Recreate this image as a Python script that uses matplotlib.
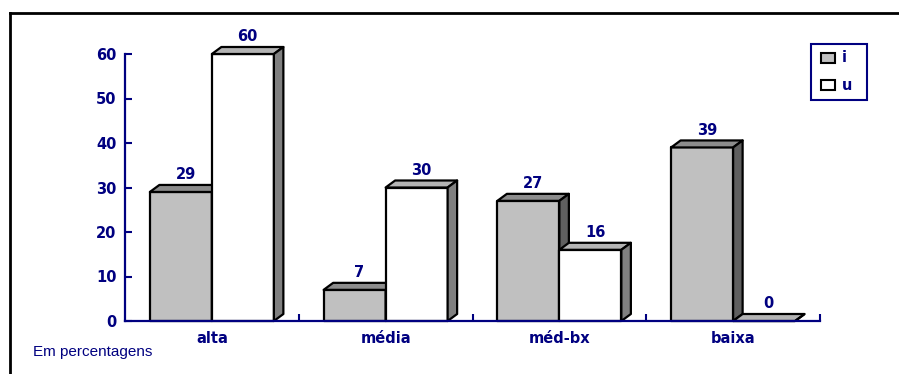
import matplotlib
matplotlib.use('Agg')
import matplotlib.pyplot as plt
from matplotlib.patches import Polygon, Rectangle
from matplotlib.lines import Line2D

categories = ['alta', 'média', 'méd-bx', 'baixa']
series_names = ['i', 'u']
values_i = [29, 7, 27, 39]
values_u = [60, 30, 16, 0]
yticks = [0, 10, 20, 30, 40, 50, 60]
note = 'Em percentagens'

W, H = 899, 374
fig = plt.figure(figsize=(W / 100, H / 100), dpi=100)
navy = '#000080'


def fx(x):
    return x / W


def fy(y):
    return 1 - y / H


ax_l, ax_r, ax_t, ax_b = 125, 820, 54, 321
ax = fig.add_axes([fx(ax_l), fy(ax_b), (ax_r - ax_l) / W, (ax_b - ax_t) / H])
n = len(categories)
ax.set_xlim(0, n)
ax.set_ylim(0, max(yticks))

ppx = (ax_r - ax_l) / n
ppy = (ax_b - ax_t) / max(yticks)
dx = 9.5 / ppx
dy = 7.0 / ppy
bw = 62 / ppx
start = 0.5 - bw

styles = {
    'i': dict(front='#c0c0c0', top='#8c8c8c', side='#5f5f5f'),
    'u': dict(front='#ffffff', top='#b4b4b4', side='#808080'),
}


def bar3d(x0, v, st, z):
    x1 = x0 + bw
    kw = dict(edgecolor='black', linewidth=1.6, joinstyle='round', clip_on=False, zorder=z)
    ax.add_patch(Polygon([(x0, 0), (x1, 0), (x1, v), (x0, v)], closed=True, facecolor=st['front'], **kw))
    ax.add_patch(Polygon([(x0, v), (x1, v), (x1 + dx, v + dy), (x0 + dx, v + dy)], closed=True, facecolor=st['top'], **kw))
    ax.add_patch(Polygon([(x1, 0), (x1 + dx, dy), (x1 + dx, v + dy), (x1, v)], closed=True, facecolor=st['side'], **kw))
    ax.annotate(str(v), xy=(x0 + bw / 2 + dx / 2, v + dy), xytext=(0, 2), textcoords='offset points',
                ha='center', va='bottom', color=navy, fontsize=10.5, fontweight='bold',
                annotation_clip=False, zorder=10)


z = 3
for k, cat in enumerate(categories):
    bar3d(k + start, values_i[k], styles['i'], z)
    z += 1
    bar3d(k + 0.5, values_u[k], styles['u'], z)
    z += 1

for s in ['top', 'right']:
    ax.spines[s].set_visible(False)
for s in ['left', 'bottom']:
    ax.spines[s].set_color(navy)
    ax.spines[s].set_linewidth(1.6)
    ax.spines[s].set_zorder(20)

ax.set_yticks(yticks)
ax.set_yticklabels([str(t) for t in yticks])
ax.tick_params(axis='y', direction='in', length=5, width=1.5, color=navy,
               labelcolor=navy, labelsize=10.5, pad=6)
for lab in ax.get_yticklabels():
    lab.set_fontweight('bold')

ax.set_xticks([k + 1 for k in range(n)])
ax.set_xticklabels([])
ax.set_xticks([k + 0.5 for k in range(n)], minor=True)
ax.set_xticklabels(categories, minor=True)
ax.tick_params(axis='x', which='major', direction='in', length=5, width=1.5, color=navy)
ax.tick_params(axis='x', which='minor', length=0, labelcolor=navy, labelsize=10.5, pad=7)
for lab in ax.get_xticklabels(minor=True):
    lab.set_fontweight('bold')

# outer frame (top and left)
fig.add_artist(Line2D([fx(10), fx(W)], [fy(13), fy(13)], color='black', linewidth=2))
fig.add_artist(Line2D([fx(10), fx(10)], [fy(13), fy(H)], color='black', linewidth=2))

# legend
fig.add_artist(Rectangle((fx(811), fy(100)), 56 / W, 56 / H, transform=fig.transFigure,
                         facecolor='white', edgecolor=navy, linewidth=1.5))
for j, name in enumerate(series_names):
    ytop = 53 + j * 27
    fig.add_artist(Rectangle((fx(821), fy(ytop + 10)), 14 / W, 10 / H, transform=fig.transFigure,
                             facecolor=styles[name]['front'], edgecolor='black', linewidth=1.5))
    fig.text(fx(842), fy(ytop + 5), name, color=navy, fontsize=10.5, fontweight='bold',
             ha='left', va='center')

fig.text(fx(33), fy(352), note, color=navy, fontsize=11, family='Liberation Sans',
         ha='left', va='center')

fig.savefig('out.png', dpi=100, facecolor='white')
